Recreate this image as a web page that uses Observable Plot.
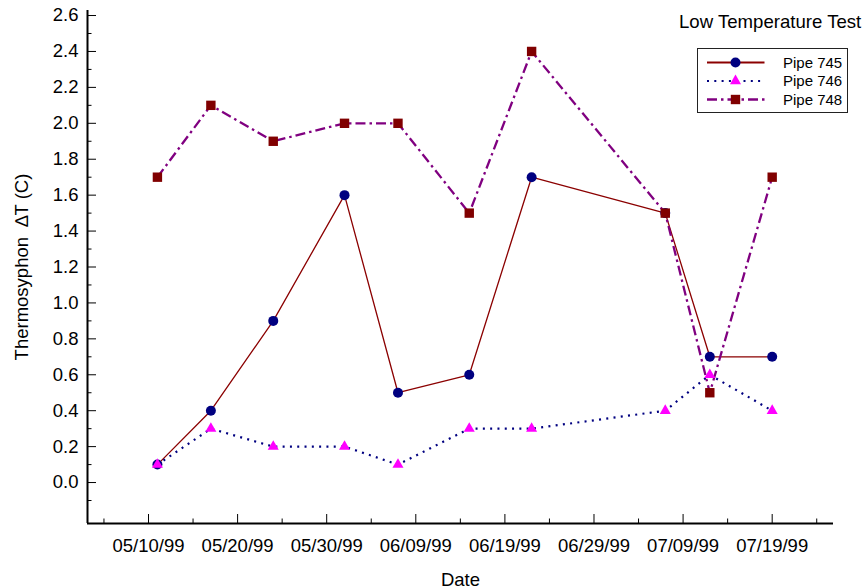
<!DOCTYPE html>
<html><head><meta charset="utf-8">
<script src="https://cdn.jsdelivr.net/npm/d3@7"></script>
<script src="https://cdn.jsdelivr.net/npm/@observablehq/plot@0.6"></script>
<style>
body{margin:0;background:#fff;}
#wrap{position:relative;width:867px;height:588px;font-family:"Liberation Sans",Arial,sans-serif;}
#overlay{position:absolute;left:0;top:0;pointer-events:none;}
</style></head><body>
<div id="wrap"><div id="chart"></div><svg id="overlay" width="867" height="588"></svg></div>
<script>
// ---- data ----
const dates = ["1999-05-11","1999-05-17","1999-05-24","1999-06-01","1999-06-07","1999-06-15","1999-06-22","1999-07-07","1999-07-12","1999-07-19"];
const pipe745 = [0.1,0.4,0.9,1.6,0.5,0.6,1.7,1.5,0.7,0.7];
const pipe746 = [0.1,0.3,0.2,0.2,0.1,0.3,0.3,0.4,0.6,0.4];
const pipe748 = [1.7,2.1,1.9,2.0,2.0,1.5,2.4,1.5,0.5,1.7];
const seriesNames = ["Pipe 745","Pipe 746","Pipe 748"];
const xMajorTicks = ["1999-05-10","1999-05-20","1999-05-30","1999-06-09","1999-06-19","1999-06-29","1999-07-09","1999-07-19"];
const xMinorTicks = ["1999-05-05","1999-05-15","1999-05-25","1999-06-04","1999-06-14","1999-06-24","1999-07-04","1999-07-14","1999-07-24"];
const yMajorTicks = [0.0,0.2,0.4,0.6,0.8,1.0,1.2,1.4,1.6,1.8,2.0,2.2,2.4,2.6];
const yMinorTicks = [-0.1,0.1,0.3,0.5,0.7,0.9,1.1,1.3,1.5,1.7,1.9,2.1,2.3,2.5];
const titleText = "Low Temperature Test";
const xLabel = "Date";
const yLabel = "Thermosyphon  \u2206T (C)";

// ---- build ----
const D = s => new Date(s + "T00:00:00Z");
const values = [pipe745, pipe746, pipe748];
const styles = [
  {stroke:"#8B0000", width:1.3, dash:null, symbol:"circle", fill:"#000080", r:5},
  {stroke:"#000080", width:2.2, dash:"2 5.3", symbol:"triangle", fill:"#FF00FF", r:4.1},
  {stroke:"#800080", width:2.3, dash:"10 4 2.5 4", symbol:"square", fill:"#800000", r:5.3}
];
const table = seriesNames.map((name,i)=>dates.map((d,j)=>({name, date:D(d), value:values[i][j]})));
const xDomain = [new Date("1999-05-03T03:40:00Z"), new Date("1999-07-25T21:10:00Z")];
const yDomain = [-0.228, 2.628];
const fmt = d3.format(".1f");

const marks = [];
table.forEach((rows,i)=>{
  const s = styles[i];
  marks.push(Plot.line(rows, {x:"date", y:"value", stroke:s.stroke, strokeWidth:s.width, strokeDasharray:s.dash, strokeLinecap:"butt"}));
});
table.forEach((rows,i)=>{
  const s = styles[i];
  marks.push(Plot.dot(rows, {x:"date", y:"value", symbol:s.symbol, fill:s.fill, r:s.r, stroke:"none"}));
});

const chart = Plot.plot({
  width:867, height:588,
  marginLeft:87, marginRight:34, marginTop:10, marginBottom:65,
  style:{fontFamily:"'Liberation Sans', Arial, sans-serif", fontSize:"18.5px", background:"white", color:"black", overflow:"visible"},
  x:{type:"utc", domain:xDomain},
  y:{domain:yDomain},
  marks:[
    ...marks,
    Plot.ruleY([yDomain[0]], {stroke:"black", strokeWidth:2}),
    Plot.ruleX([xDomain[0]], {stroke:"black", strokeWidth:2}),
    Plot.axisY(yMajorTicks.map(Number), {tickSize:9, dx:9, fill:"none", label:null}),
    Plot.axisY(yMinorTicks, {tickSize:4.5, dx:4.5, fill:"none", label:null}),
    Plot.axisY(yMajorTicks, {tickSize:0, tickPadding:9, tickFormat:fmt, label:yLabel, labelAnchor:"center", labelOffset:73, labelArrow:"none"}),
    Plot.axisX(xMajorTicks.map(D), {tickSize:9, dy:-9, fill:"none", label:null}),
    Plot.axisX(xMinorTicks.map(D), {tickSize:4.5, dy:-4.5, fill:"none", label:null}),
    Plot.axisX(xMajorTicks.map(D), {tickSize:0, tickPadding:15, tickFormat:d3.utcFormat("%m/%d/%y"), label:xLabel, labelAnchor:"center", labelOffset:62, labelArrow:"none"})
  ]
});
document.getElementById("chart").appendChild(chart);

// ---- title & legend overlay ----
const ov = d3.select("#overlay");
ov.append("text").attr("x",679).attr("y",28).attr("font-size",18.6).attr("fill","black").text(titleText);
const lg = ov.append("g").attr("transform","translate(697.5,48.5)");
lg.append("rect").attr("width",150).attr("height",64).attr("fill","white").attr("stroke","#222").attr("stroke-width",1);
const symMap = {circle:d3.symbolCircle, triangle:d3.symbolTriangle, square:d3.symbolSquare};
seriesNames.forEach((name,i)=>{
  const s = styles[i];
  const y = 14 + i*18.5;
  const row = lg.append("g").attr("transform",`translate(0,${y})`);
  row.append("line").attr("x1",9.5).attr("x2",67).attr("y1",0).attr("y2",0)
    .attr("stroke",s.stroke).attr("stroke-width",i===0?2:s.width).attr("stroke-dasharray",s.dash);
  row.append("path").attr("transform","translate(38,0)")
    .attr("d", d3.symbol(symMap[s.symbol], Math.PI*s.r*s.r)()).attr("fill",s.fill);
  row.append("text").attr("x",85.5).attr("y",5.2).attr("font-size",15).attr("fill","black").text(name);
});
</script>
</body></html>
